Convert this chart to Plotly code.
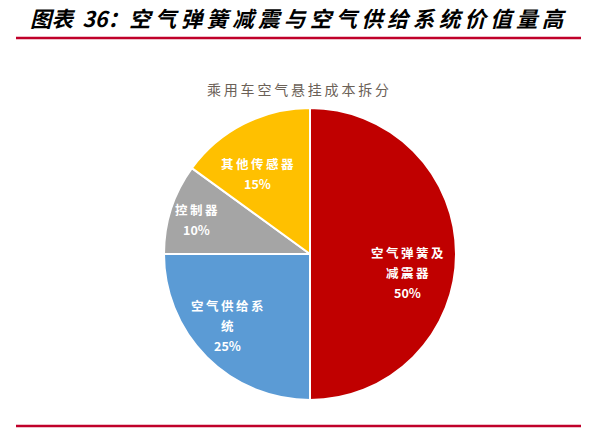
import math
import plotly.graph_objects as go

# 乘用车空气悬挂成本拆分
labels = ["空气弹簧及减震器", "空气供给系统", "控制器", "其他传感器"]
label_lines = [["空气弹簧及", "减震器"], ["空气供给系", "统"], ["控制器"], ["其他传感器"]]
values = [50, 25, 10, 15]
colors = ["#C00000", "#5B9BD5", "#A5A5A5", "#FFC000"]

W, H = 598, 435
font_cjk = "Noto Sans CJK SC"

#pie centre and radius in page pixels
cx, cy, R = 310, 254, 146
#label placement: share of radius along the slice bisector, plus a small turn (deg)
label_r = [0.68, 0.75, 0.815, 0.66]
label_turn = [11, 4, -1, -6]
line_gap = 20

#page body adds an 8px margin, so positions are shifted back by that much
def px(x):
    return (x - 8) / W

def py(y):
    return 1 - (y - 8) / H

#the reference uses wide letter spacing
def spaced(s):
    return "\u2009".join(s)

fig = go.Figure()
fig.add_trace(go.Pie(labels = labels, values = values,
                     sort = False, direction = "clockwise", rotation = 0,
                     marker = dict(colors = colors, line = dict(color = "white", width = 2)),
                     textinfo = "none",
                     hoverinfo = "label+percent",
                     domain = dict(x = [px(cx - R), px(cx + R)],
                                   y = [py(cy + R), py(cy - R)])))

#Slice labels: name lines and percentage, along each slice's bisector
total = sum(values)
start = 0
for i, v in enumerate(values):
    mid = (start + v / 2) / total
    start += v
    ang = math.radians(mid * 360 + label_turn[i])
    lx = cx + label_r[i] * R * math.sin(ang)
    ly = cy - label_r[i] * R * math.cos(ang)
    lines = [spaced(t) for t in label_lines[i]] + ["%.0f%%" % (100 * v / total)]
    for j, t in enumerate(lines):
        yy = ly + (j - (len(lines) - 1) / 2) * line_gap
        fig.add_annotation(text = t, xref = "paper", yref = "paper",
                           x = px(lx), y = py(yy), xanchor = "center", yanchor = "middle",
                           showarrow = False,
                           font = dict(family = font_cjk, size = 12.5, color = "white",
                                       weight = "bold"))

#Red rules under the title and at the bottom
for ypx in [38, 426]:
    fig.add_shape(type = "line", xref = "paper", yref = "paper",
                  x0 = px(16), x1 = px(581), y0 = py(ypx), y1 = py(ypx),
                  line = dict(color = "#C0002A", width = 2.5))

fig.add_annotation(text = spaced("乘用车空气悬挂成本拆分"), xref = "paper", yref = "paper",
                   x = px(298), y = py(89), xanchor = "center", yanchor = "middle",
                   showarrow = False,
                   font = dict(family = font_cjk, size = 14, color = "#6b6157"))

fig.update_layout(width = W, height = H,
                  title = dict(text = "图表" + "\u2009" + " 36：" + spaced("空气弹簧减震与空气供给系统价值量高"),
                               x = px(30), xanchor = "left", y = py(19), yanchor = "middle",
                               font = dict(family = font_cjk, size = 21.5, color = "black",
                                           weight = "bold", style = "italic")),
                  showlegend = False,
                  margin = dict(l = 0, r = 0, t = 0, b = 0),
                  paper_bgcolor = "white", plot_bgcolor = "white")

fig.write_html("out.html")
